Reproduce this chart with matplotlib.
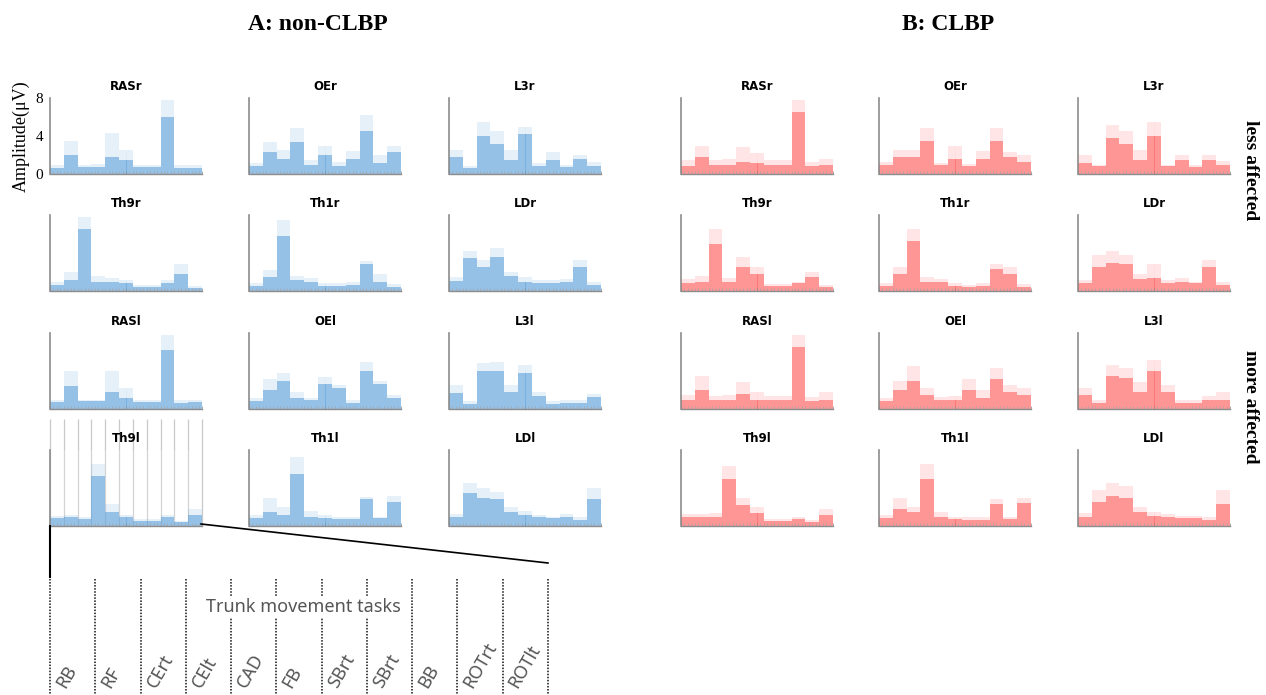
import numpy as np
import matplotlib.pyplot as plt

W, H = 1266, 695

tasks = ['RB', 'RF', 'CErt', 'CElt', 'CAD', 'FB', 'SBrt', 'SBrt', 'BB', 'ROTrt', 'ROTlt']
muscles = [['RASr', 'OEr', 'L3r'],
           ['Th9r', 'Th1r', 'LDr'],
           ['RASl', 'OEl', 'L3l'],
           ['Th9l', 'Th1l', 'LDl']]

# --- A: non-CLBP, dense block level / spike tops per task (uV)
a_rasr_mean = [0.6, 2.0, 0.7, 0.7, 1.8, 1.5, 0.7, 0.7, 6.0, 0.6, 0.6]
a_rasr_peak = [0.9, 3.5, 1.0, 1.1, 4.3, 2.5, 1.0, 1.0, 7.8, 1.0, 1.0]
a_oer_mean = [0.8, 2.3, 1.6, 3.4, 0.9, 2.0, 0.8, 1.6, 4.5, 1.2, 2.3]
a_oer_peak = [1.2, 3.4, 2.5, 4.8, 1.5, 3.0, 1.3, 2.4, 6.2, 2.0, 3.0]
a_l3r_mean = [1.8, 0.6, 4.0, 3.2, 1.5, 4.2, 0.8, 1.5, 0.7, 1.6, 0.8]
a_l3r_peak = [2.5, 0.8, 5.5, 4.5, 2.5, 5.0, 1.2, 2.3, 1.0, 2.0, 1.3]
a_th9r_mean = [0.6, 1.2, 6.5, 1.0, 0.9, 0.8, 0.4, 0.4, 0.8, 1.8, 0.3]
a_th9r_peak = [0.9, 2.0, 7.8, 1.6, 1.4, 1.2, 0.6, 0.6, 1.2, 2.8, 0.5]
a_th1r_mean = [0.5, 1.5, 5.8, 1.2, 1.0, 0.5, 0.5, 0.6, 2.8, 1.0, 0.4]
a_th1r_peak = [0.8, 2.2, 7.5, 1.6, 1.4, 0.8, 0.8, 0.9, 3.2, 1.8, 0.7]
a_ldr_mean = [1.1, 3.5, 2.5, 3.6, 1.6, 1.0, 0.8, 0.8, 1.0, 2.5, 0.6]
a_ldr_peak = [1.5, 4.2, 3.3, 4.5, 2.0, 1.5, 1.2, 1.2, 1.3, 3.3, 1.0]
a_rasl_mean = [0.7, 2.4, 0.8, 0.8, 1.8, 1.2, 0.7, 0.7, 6.2, 0.6, 0.7]
a_rasl_peak = [1.0, 4.0, 1.0, 1.0, 4.0, 2.2, 1.0, 1.0, 7.8, 1.0, 1.0]
a_oel_mean = [0.8, 2.0, 3.0, 1.2, 0.9, 2.6, 2.2, 0.6, 4.0, 2.6, 1.2]
a_oel_peak = [1.2, 3.2, 3.8, 1.8, 1.2, 3.4, 2.5, 0.9, 5.0, 3.0, 1.5]
a_l3l_mean = [1.7, 0.5, 4.0, 4.0, 1.8, 3.8, 1.4, 0.5, 0.6, 0.6, 1.3]
a_l3l_peak = [2.5, 0.8, 4.8, 5.0, 2.5, 4.6, 1.8, 0.8, 0.9, 1.0, 1.6]
a_th9l_mean = [0.8, 0.9, 0.7, 5.3, 1.5, 0.9, 0.5, 0.5, 1.0, 0.4, 1.2]
a_th9l_peak = [1.1, 1.2, 1.0, 6.5, 2.3, 1.2, 0.7, 0.7, 1.2, 0.5, 1.8]
a_th1l_mean = [0.8, 1.5, 1.2, 5.5, 1.0, 0.8, 0.7, 0.7, 2.8, 0.8, 2.5]
a_th1l_peak = [1.2, 2.9, 2.0, 7.3, 1.6, 1.2, 1.0, 1.0, 3.1, 1.0, 3.2]
a_ldl_mean = [0.9, 3.5, 3.0, 2.8, 1.5, 1.2, 0.9, 0.8, 1.0, 0.6, 2.8]
a_ldl_peak = [1.3, 4.5, 4.0, 3.6, 2.0, 1.6, 1.2, 1.0, 1.3, 0.9, 4.0]

# --- B: CLBP
b_rasr_mean = [0.8, 1.8, 0.9, 1.0, 1.3, 1.2, 0.9, 0.9, 6.5, 0.8, 0.9]
b_rasr_peak = [1.5, 3.0, 1.5, 1.6, 2.8, 2.2, 1.5, 1.5, 7.8, 1.3, 1.6]
b_oer_mean = [0.9, 1.8, 1.8, 3.5, 0.9, 1.6, 0.8, 1.6, 3.5, 1.8, 1.3]
b_oer_peak = [1.3, 2.5, 2.5, 4.8, 1.2, 3.0, 1.1, 2.4, 4.8, 2.3, 2.0]
b_l3r_mean = [1.2, 0.8, 3.8, 3.2, 1.5, 4.0, 0.8, 1.5, 0.7, 1.5, 0.9]
b_l3r_peak = [2.0, 1.0, 5.2, 4.5, 2.5, 5.5, 1.0, 2.0, 1.0, 2.0, 1.4]
b_th9r_mean = [0.8, 1.0, 5.0, 1.0, 2.5, 1.8, 0.5, 0.5, 0.8, 1.5, 0.4]
b_th9r_peak = [1.3, 1.6, 6.5, 1.4, 3.6, 2.5, 0.7, 0.7, 1.0, 2.0, 0.6]
b_th1r_mean = [0.5, 1.8, 5.3, 1.0, 0.9, 0.5, 0.4, 0.5, 2.3, 1.8, 0.4]
b_th1r_peak = [0.8, 2.5, 6.5, 1.5, 1.3, 0.8, 0.6, 0.8, 2.8, 2.5, 0.7]
b_ldr_mean = [0.8, 2.5, 3.0, 2.8, 1.3, 1.4, 0.8, 1.0, 0.8, 2.5, 0.6]
b_ldr_peak = [1.2, 3.8, 4.2, 3.8, 1.8, 2.8, 1.2, 1.4, 1.0, 3.3, 0.9]
b_rasl_mean = [1.0, 2.0, 0.9, 1.0, 1.6, 1.0, 0.9, 0.9, 6.5, 0.8, 0.9]
b_rasl_peak = [1.5, 3.5, 1.4, 1.5, 2.8, 1.8, 1.4, 1.4, 7.8, 1.3, 1.8]
b_oel_mean = [0.8, 2.0, 3.0, 1.5, 0.9, 1.0, 2.0, 1.2, 3.2, 1.8, 1.5]
b_oel_peak = [1.2, 3.0, 4.5, 2.2, 1.3, 1.4, 3.2, 2.0, 4.3, 2.5, 2.2]
b_l3l_mean = [1.5, 0.6, 3.5, 3.3, 1.8, 4.0, 1.8, 0.6, 0.6, 1.0, 1.0]
b_l3l_peak = [2.2, 0.9, 4.6, 4.3, 2.8, 5.2, 2.5, 0.9, 0.9, 1.4, 1.8]
b_th9l_mean = [0.9, 0.9, 1.0, 5.0, 2.2, 1.4, 0.5, 0.5, 0.7, 0.4, 1.2]
b_th9l_peak = [1.3, 1.3, 1.4, 6.3, 3.0, 2.0, 0.7, 0.7, 1.0, 0.6, 1.8]
b_th1l_mean = [0.8, 1.8, 1.5, 5.0, 1.0, 0.7, 0.6, 0.6, 2.3, 0.7, 2.4]
b_th1l_peak = [1.2, 3.0, 2.0, 6.5, 1.5, 1.0, 0.9, 0.9, 2.8, 1.0, 3.0]
b_ldl_mean = [1.0, 2.5, 3.2, 3.0, 1.5, 1.1, 0.9, 0.8, 0.8, 0.6, 2.3]
b_ldl_peak = [1.4, 3.8, 4.5, 4.2, 2.0, 1.5, 1.3, 1.1, 1.1, 0.9, 3.8]

g = globals()

def get(prefix, name):
    key = prefix + '_' + name.lower()
    return g[key + '_mean'], g[key + '_peak']


def draw_panel(ax, mean, peak, color, title):
    edges = np.arange(len(mean) + 1)
    ax.stairs(peak, edges, fill=True, color=color, alpha=0.16, lw=0)
    ax.stairs(mean, edges, fill=True, color=color, alpha=0.6, lw=0)
    # thin striations to give the traces their spiky texture
    ax.vlines(np.linspace(0.04, 10.96, 150), 0, 8, colors='white', lw=0.4, alpha=0.4)
    ax.set_xlim(0, 11)
    ax.set_ylim(0, 8)
    for s in ['top', 'right']:
        ax.spines[s].set_visible(False)
    ax.spines['left'].set_color('#8c8c8c')
    ax.spines['bottom'].set_color('#8c8c8c')
    ax.spines['left'].set_linewidth(1.2)
    ax.spines['bottom'].set_linewidth(1.0)
    ax.set_xticks(np.linspace(0, 11, 45))
    ax.tick_params(axis='x', direction='in', length=2, width=0.5, color='#8c8c8c', labelbottom=False)
    ax.set_yticks([])
    ax.set_title(title, fontsize=8.5, fontweight='bold', family='DejaVu Sans', pad=6)


fig = plt.figure(figsize=(W / 100, H / 100), dpi=100)

def px_axes(x0, y0, w, h):
    return fig.add_axes([x0 / W, 1 - (y0 + h) / H, w / W, h / H])

col_left = [50, 249, 449]
col_right = [681, 879, 1078]
row_top = [98, 215, 333, 450]
pw, ph = 152, 76

blue = '#3489d0'
red = '#ff3434'

for r in range(4):
    for c in range(3):
        name = muscles[r][c]
        ax = px_axes(col_left[c], row_top[r], pw, ph)
        m, p = get('a', name)
        draw_panel(ax, m, p, blue, name)
        if r == 0 and c == 0:
            ax.set_yticks([0, 4, 8])
            ax.tick_params(axis='y', length=0, pad=5, labelsize=11)
            for lab in ax.get_yticklabels():
                lab.set_family('Liberation Serif')
            ax.set_ylabel('Amplitude(μV)', family='Liberation Serif', fontsize=13, labelpad=4)
        if r == 3 and c == 0:
            ax.vlines(np.arange(12), 0, 11.3, colors='#c8c8c8', lw=0.9, clip_on=False, zorder=0.5)
        ax2 = px_axes(col_right[c], row_top[r], pw, ph)
        m, p = get('b', name)
        draw_panel(ax2, m, p, red, name)

# overlay in pixel coordinates for headings and the task callout
ov = fig.add_axes([0, 0, 1, 1])
ov.set_xlim(0, W)
ov.set_ylim(H, 0)
ov.axis('off')
ov.patch.set_alpha(0)

ov.text(318, 25, 'A: non-CLBP', ha='center', va='center', fontsize=17,
        fontweight='bold', family='Liberation Serif')
ov.text(948, 25, 'B: CLBP', ha='center', va='center', fontsize=17,
        fontweight='bold', family='Liberation Serif')
ov.text(1251, 170, 'less affected', ha='center', va='center', rotation=270,
        fontsize=14, fontweight='bold', family='Liberation Serif')
ov.text(1251, 407, 'more affected', ha='center', va='center', rotation=270,
        fontsize=14, fontweight='bold', family='Liberation Serif')

ov.plot([50, 50], [526, 577], color='k', lw=1.5)
ov.plot([201, 548], [524, 563], color='k', lw=1.2)

xs = np.linspace(50, 548, 12)
ov.vlines(xs, 579, 695, colors='#111111', linestyles=(0, (1, 1)), lw=1.1)
ov.text(303, 607, 'Trunk movement tasks', ha='center', va='center', fontsize=13,
        color='#555555', family='Noto Sans',
        bbox=dict(fc='white', ec='none', pad=1.5), zorder=5)
for i, t in enumerate(tasks):
    ov.text(xs[i] + 15, 689, t, rotation=60, rotation_mode='anchor', ha='left',
            va='baseline', fontsize=13, color='#555555', family='Noto Sans')

fig.savefig('out.png', dpi=100)
